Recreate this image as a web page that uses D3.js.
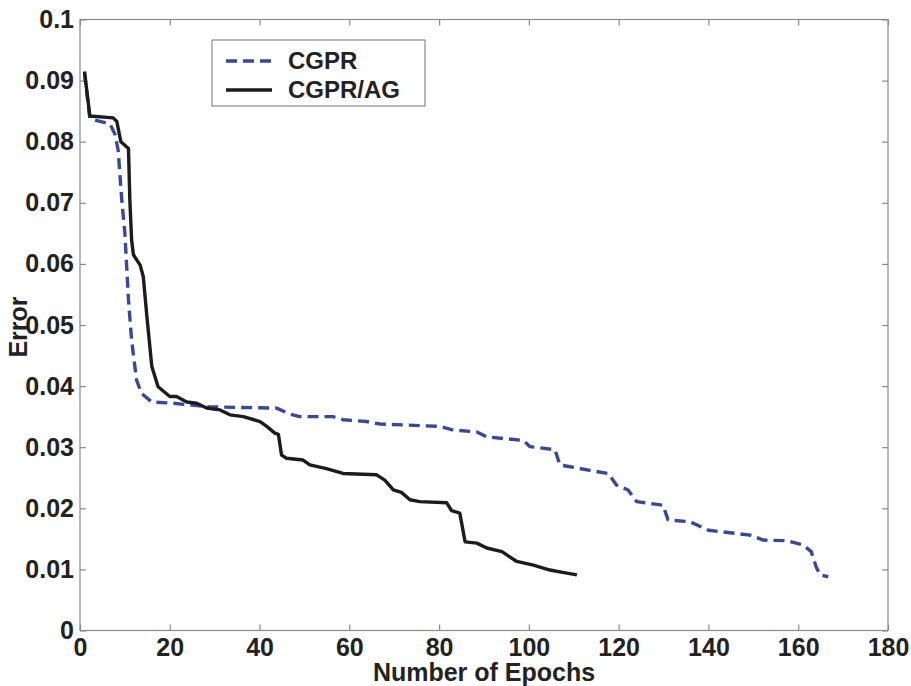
<!DOCTYPE html>
<html>
<head>
<meta charset="utf-8">
<script src="https://cdn.jsdelivr.net/npm/d3@7"></script>
<style>
  html, body { margin: 0; padding: 0; background: #ffffff; }
  svg text { font-family: "Liberation Sans", Arial, Helvetica, sans-serif; font-weight: bold; fill: #222; }
</style>
</head>
<body>
<svg id="chart" width="911" height="686"></svg>
<script>
// ---- data ----
const cgprEpochs = [1, 2.2, 4, 6.7, 7.8, 8.5, 9.3, 10.0, 10.8, 11.5, 12.6, 13.7, 16, 20.7, 29, 43.8, 46.8, 49, 56.3, 58.6, 63.8, 66.8, 80.2, 83.2, 88.4, 90.6, 98.8, 100.2, 105.8, 106.9, 109.2, 113.6, 117.7, 119.5, 122.1, 124, 129.9, 131, 135.9, 140, 144.8, 149.3, 152.2, 157.4, 161.1, 162.9, 164, 164.9, 166.7];
const cgprError  = [0.0912, 0.0838, 0.0834, 0.0829, 0.0812, 0.0786, 0.0705, 0.0650, 0.0541, 0.0475, 0.0410, 0.0388, 0.0374, 0.0372, 0.0366, 0.0364, 0.0354, 0.0350, 0.0350, 0.0345, 0.0342, 0.0338, 0.0334, 0.0328, 0.0325, 0.0317, 0.0311, 0.0301, 0.0296, 0.0271, 0.0268, 0.0262, 0.0257, 0.0238, 0.0230, 0.0211, 0.0205, 0.0181, 0.0178, 0.0164, 0.0160, 0.0156, 0.0148, 0.0147, 0.0140, 0.0129, 0.0104, 0.0091, 0.0088];

const agEpochs = [1, 2.2, 7.4, 8.2, 9.1, 10.8, 11.1, 11.5, 11.9, 13.4, 14.1, 14.9, 16.0, 17.4, 20, 21.5, 23.8, 26, 28.2, 31.2, 33.4, 36.4, 40.1, 41.6, 43.4, 44.2, 44.9, 46, 49.7, 51.2, 54.9, 58.6, 66, 67.9, 69.8, 71.6, 73.5, 75.7, 81.7, 82.8, 84.6, 85.8, 88.4, 90.6, 94, 97.3, 101, 104.7, 106.9, 110.7];
const agError  = [0.0915, 0.0842, 0.0839, 0.0833, 0.0800, 0.0789, 0.0705, 0.0639, 0.0615, 0.0598, 0.0579, 0.0514, 0.0432, 0.0399, 0.0383, 0.0383, 0.0374, 0.0372, 0.0364, 0.0361, 0.0353, 0.0350, 0.0342, 0.0334, 0.0323, 0.0321, 0.0287, 0.0282, 0.0279, 0.0271, 0.0265, 0.0257, 0.0255, 0.0246, 0.0230, 0.0226, 0.0214, 0.0211, 0.0209, 0.0196, 0.0192, 0.0145, 0.0143, 0.0135, 0.0129, 0.0113, 0.0107, 0.0099, 0.0096, 0.0091];

const xTicks = [0, 20, 40, 60, 80, 100, 120, 140, 160, 180];
const yTicks = [0, 0.01, 0.02, 0.03, 0.04, 0.05, 0.06, 0.07, 0.08, 0.09, 0.1];
const yTickLabels = ["0", "0.01", "0.02", "0.03", "0.04", "0.05", "0.06", "0.07", "0.08", "0.09", "0.1"];
const seriesNames = ["CGPR", "CGPR/AG"];
const xTitle = "Number of Epochs";
const yTitle = "Error";

// ---- layout ----
const mLeft = 80, mRight = 888, mTop = 19.5, mBottom = 630.5;
const svg = d3.select("#chart");

const x = d3.scaleLinear().domain([0, 180]).range([mLeft, mRight]);
const y = d3.scaleLinear().domain([0, 0.1]).range([mBottom, mTop]);

const frameColor = "#8a8a8a";
const tickLen = 6;

// frame
svg.append("rect")
  .attr("x", mLeft).attr("y", mTop)
  .attr("width", mRight - mLeft).attr("height", mBottom - mTop)
  .attr("fill", "none").attr("stroke", frameColor).attr("stroke-width", 1.2);

// axes with inward ticks
const axB = d3.axisBottom(x).tickValues(xTicks).tickSize(-tickLen).tickPadding(tickLen + 2).tickFormat(d3.format("d"));
const axT = d3.axisTop(x).tickValues(xTicks).tickSize(-tickLen).tickFormat("");
const axL = d3.axisLeft(y).tickValues(yTicks).tickSize(-tickLen).tickPadding(tickLen).tickFormat((d, i) => yTickLabels[i]);
const axR = d3.axisRight(y).tickValues(yTicks).tickSize(-tickLen).tickFormat("");

function style(g) {
  g.select(".domain").remove();
  g.selectAll(".tick line").attr("stroke", frameColor).attr("stroke-width", 1.2);
  g.selectAll(".tick text").attr("font-size", 25).attr("fill", "#222")
    .style("font-family", '"Liberation Sans", Arial, sans-serif').style("font-weight", "bold");
}
svg.append("g").attr("transform", `translate(0,${mBottom})`).call(axB).call(style);
svg.append("g").attr("transform", `translate(0,${mTop})`).call(axT).call(style);
svg.append("g").attr("transform", `translate(${mLeft},0)`).call(axL).call(style);
svg.append("g").attr("transform", `translate(${mRight},0)`).call(axR).call(style);

// axis titles
svg.append("text").attr("x", 484).attr("y", 681)
  .attr("text-anchor", "middle").attr("font-size", 25).text(xTitle);
svg.append("text").attr("transform", `translate(27,${(mTop + mBottom) / 2 + 2}) rotate(-90)`)
  .attr("text-anchor", "middle").attr("font-size", 25).text(yTitle);

// lines
const line = d3.line().x(d => x(d[0])).y(d => y(d[1]));
const cgpr = cgprEpochs.map((e, i) => [e, cgprError[i]]);
const ag = agEpochs.map((e, i) => [e, agError[i]]);

const blue = "#3a4896";
const black = "#1c1c1c";

svg.append("path").datum(cgpr).attr("d", line)
  .attr("fill", "none").attr("stroke", blue).attr("stroke-width", 3.4)
  .attr("stroke-dasharray", "11,6").attr("stroke-linejoin", "round");
svg.append("path").datum(ag).attr("d", line)
  .attr("fill", "none").attr("stroke", black).attr("stroke-width", 3.4)
  .attr("stroke-linejoin", "round");

// legend
const lg = svg.append("g");
lg.append("rect").attr("x", 212).attr("y", 40).attr("width", 213).attr("height", 66)
  .attr("fill", "#fff").attr("stroke", frameColor).attr("stroke-width", 1.2);
const legendItems = [
  { name: seriesNames[0], color: blue, dash: "11,6", yy: 61 },
  { name: seriesNames[1], color: black, dash: null, yy: 90 }
];
legendItems.forEach(it => {
  const l = lg.append("line").attr("x1", 226).attr("x2", 272).attr("y1", it.yy).attr("y2", it.yy)
    .attr("stroke", it.color).attr("stroke-width", 3.4);
  if (it.dash) l.attr("stroke-dasharray", it.dash);
  lg.append("text").attr("x", 288).attr("y", it.yy).attr("dy", "0.35em")
    .attr("font-size", 24).text(it.name);
});
</script>
</body>
</html>
